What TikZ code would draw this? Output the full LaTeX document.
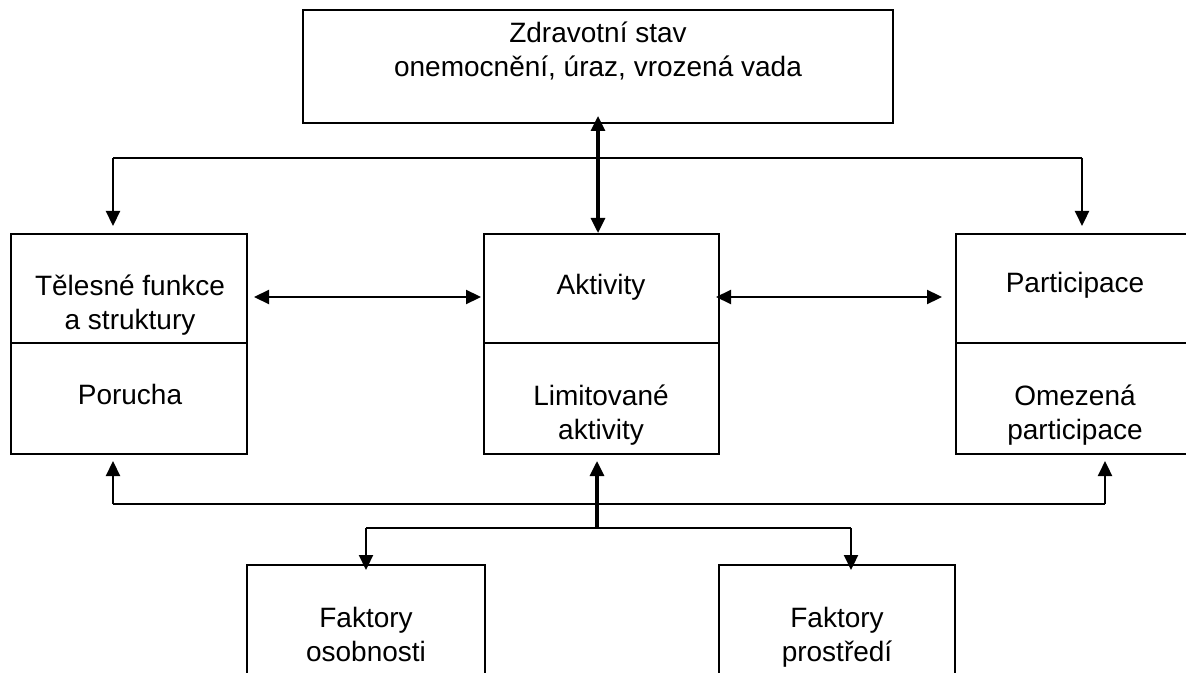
\documentclass[tikz,border=0pt]{standalone}
\usepackage{fontspec}
\setmainfont{Liberation Sans}
\usetikzlibrary{arrows.meta}
\begin{document}
\begin{tikzpicture}[x=0.5pt,y=-0.5pt,
  box/.style n args={2}{draw,line width=1pt,inner sep=0pt,minimum width=#1*0.5pt,minimum height=#2*0.5pt},
  txt/.style={anchor=north,inner sep=0pt,align=center,font=\fontsize{14}{17}\selectfont},
  line/.style={line width=1.1pt},
  conn/.style={line width=1.1pt,-{Triangle[length=7.5pt,width=7pt]}},
  bothconn/.style={line width=1.1pt,{Triangle[length=7.5pt,width=7pt]}-{Triangle[length=7.5pt,width=7pt]}},
  bigconn/.style={line width=1.6pt,-{Triangle[length=7.5pt,width=7pt]}},
  bigboth/.style={line width=1.6pt,{Triangle[length=7.5pt,width=7pt]}-{Triangle[length=7.5pt,width=7pt]}}]
\useasboundingbox (0,0) rectangle (1186,673);
\clip (0,0) rectangle (1186,673);
% boxes
\node[box={590}{113}] (top) at (598,66.5) {};
\node[box={236}{109}] (lu) at (129,288.5) {};
\node[box={236}{111}] (ll) at (129,398.5) {};
\node[box={235}{109}] (mu) at (601.5,288.5) {};
\node[box={235}{111}] (ml) at (601.5,398.5) {};
\node[box={238}{109}] (ru) at (1075,288.5) {};
\node[box={238}{111}] (rl) at (1075,398.5) {};
\node[box={238}{150}] (fo) at (366,640) {};
\node[box={236}{150}] (fp) at (837,640) {};
% texts
\node[txt] (ttop) at (598,14) {\rule{0pt}{14pt}Zdravotní stav\\onemocnění, úraz, vrozená vada};
\node[txt] (tlu) at (130,267) {\rule{0pt}{14pt}Tělesné funkce\\a struktury};
\node[txt] (tll) at (130,376) {\rule{0pt}{14pt}Porucha};
\node[txt] (tmu) at (601,266) {\rule{0pt}{14pt}Aktivity};
\node[txt] (tml) at (601,377) {\rule{0pt}{14pt}Limitované\\aktivity};
\node[txt] (tru) at (1075,264) {\rule{0pt}{14pt}Participace};
\node[txt] (trl) at (1075,377) {\rule{0pt}{14pt}Omezená\\participace};
\node[txt] (tfo) at (366,599) {\rule{0pt}{14pt}Faktory\\osobnosti};
\node[txt] (tfp) at (837,599) {\rule{0pt}{14pt}Faktory\\prostředí};
% top connectors
\coordinate (hl) at (113,158);
\coordinate (hr) at (1082,158);
\draw[line] (hl) -- (hr);
\draw[conn,shorten >=3.5pt] (hl) -- (hl |- lu.north);
\draw[conn,shorten >=3.5pt] (hr) -- (hr |- ru.north);
\draw[bigboth,shorten <=-4pt] (top.south) -- (top.south |- mu.north);
% horizontal connectors
\draw[bothconn] ([shift={(6,8.5)}]lu.east) -- ([shift={(-2,8.5)}]mu.west);
\draw[bothconn] ([shift={(-4,8.5)}]mu.east) -- ([shift={(-13,8.5)}]ru.west);
% bottom connectors
\coordinate (bl) at (113,504);
\coordinate (br) at (1105,504);
\coordinate (bc) at (597,528);
\coordinate (b1) at (366,528);
\coordinate (b2) at (851,528);
\draw[line] (bl) -- (br);
\draw[conn,shorten >=3pt] (bl) -- (bl |- ll.south);
\draw[conn,shorten >=3pt] (br) -- (br |- rl.south);
\draw[bigconn,shorten >=3pt] (bc) -- (bc |- ml.south);
\draw[line] (b1) -- (b2);
\draw[conn,shorten >=-3pt] (b1) -- (b1 |- fo.north);
\draw[conn,shorten >=-3pt] (b2) -- (b2 |- fp.north);
\end{tikzpicture}
\end{document}
